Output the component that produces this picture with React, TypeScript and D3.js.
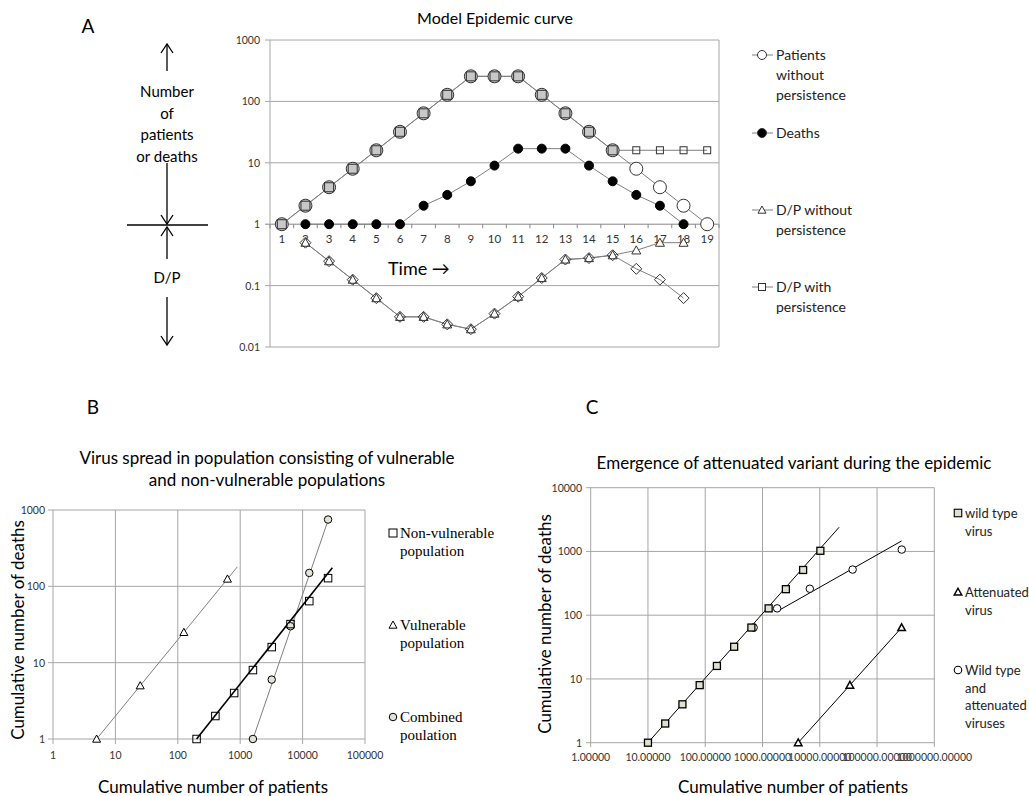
import * as d3 from 'd3';

// ---- Panel A: model epidemic curve ----
const timeSteps = ['1', '2', '3', '4', '5', '6', '7', '8', '9', '10', '11', '12', '13', '14', '15', '16', '17', '18', '19'];
const patientsNoPersist = [1, 2, 4, 8, 16, 32, 64, 128, 256, 256, 256, 128, 64, 32, 16, 8, 4, 2, 1];
const patientsPersist = [1, 2, 4, 8, 16, 32, 64, 128, 256, 256, 256, 128, 64, 32, 16, 16, 16, 16, 16];
const deaths = [null, 1, 1, 1, 1, 1, 2, 3, 5, 9, 17, 17, 17, 9, 5, 3, 2, 1, null];
const dpNoPersist = [null, 0.5, 0.25, 0.125, 0.0625, 0.031, 0.031, 0.0234, 0.0195, 0.035, 0.066, 0.133, 0.266, 0.281, 0.3125, 0.375, 0.5, 0.5, null];
const dpPersist = [null, 0.5, 0.25, 0.125, 0.0625, 0.031, 0.031, 0.0234, 0.0195, 0.035, 0.066, 0.133, 0.266, 0.281, 0.3125, 0.1875, 0.125, 0.0625, null];
const ticksA = [0.01, 0.1, 1, 10, 100, 1000];
const tickLabelsA = ['0.01', '0.1', '1', '10', '100', '1000'];

// ---- Panel B: vulnerable / non-vulnerable ----
const nonVulnPatients = [200, 400, 800, 1600, 3200, 6400, 12800, 25600];
const nonVulnDeaths = [1, 2, 4, 8, 16, 32, 64, 128];
const vulnPatients = [5, 25, 125, 625];
const vulnDeaths = [1, 5, 25, 125];
const combinedPatients = [1600, 3200, 6400, 12800, 25600];
const combinedDeaths = [1, 6, 30, 150, 750];
const nonVulnTrend = [[200, 1], [30000, 175]];
const vulnTrend = [[5, 1], [900, 180]];
const combinedTrend = [[1600, 1], [26000, 760]];
const xTicksB = [1, 10, 100, 1000, 10000, 100000];
const yTicksB = [1, 10, 100, 1000];

// ---- Panel C: attenuated variant ----
const wildPatients = [10, 20, 40, 80, 160, 320, 640, 1280, 2560, 5120, 10240];
const wildDeaths = [1, 2, 4, 8, 16, 32, 64, 128, 256, 512, 1024];
const attenPatients = [4200, 33600, 268800];
const attenDeaths = [1, 8, 64];
const mixedPatients = [700, 1800, 6700, 37500, 270000];
const mixedDeaths = [64, 128, 260, 520, 1070];
const wildTrend = [[10, 1], [21800, 2400]];
const attenTrend = [[4200, 1], [268800, 64]];
const mixedTrend = [[1900, 118], [268000, 1460]];
const xTicksC = [1, 10, 100, 1000, 10000, 100000, 1000000];
const xTickLabelsC = ['1.00000', '10.00000', '100.00000', '1000.00000', '10000.00000', '100000.00000', '1000000.00000'];
const yTicksC = [1, 10, 100, 1000, 10000];

const SANS = 'Lato, "Open Sans", sans-serif';
const SERIF = '"Liberation Serif", "DejaVu Serif", serif';
const GRID = '#a6a6a6';

function Marker({ shape, x, y, size, fill = '#fff', stroke = '#000', sw = 1 }) {
  const h = size / 2;
  if (shape === 'circle') return <circle cx={x} cy={y} r={h} fill={fill} stroke={stroke} strokeWidth={sw} />;
  if (shape === 'square') return <rect x={x - h} y={y - h} width={size} height={size} fill={fill} stroke={stroke} strokeWidth={sw} />;
  if (shape === 'triangle')
    return <path d={`M${x},${y - h}L${x + h},${y + h * 0.8}L${x - h},${y + h * 0.8}Z`} fill={fill} stroke={stroke} strokeWidth={sw} />;
  return <path d={`M${x},${y - h}L${x + h},${y}L${x},${y + h}L${x - h},${y}Z`} fill={fill} stroke={stroke} strokeWidth={sw} />;
}

function Arrow({ x, y1, y2 }) {
  // arrow from y1 to tip at y2
  const dir = y2 < y1 ? 1 : -1;
  return (
    <g stroke="#000" strokeWidth={1.3} fill="none">
      <line x1={x} y1={y1} x2={x} y2={y2} />
      <path d={`M${x - 6},${y2 + dir * 9}L${x},${y2}L${x + 6},${y2 + dir * 9}`} />
    </g>
  );
}

function PanelA() {
  const x = d3.scaleBand().domain(timeSteps).range([270, 719]);
  const y = d3.scaleLog().domain([0.01, 1000]).range([347, 40]);
  const cx = (i) => x(timeSteps[i]) + x.bandwidth() / 2;
  const line = d3
    .line()
    .defined((d) => d != null)
    .x((d, i) => cx(i))
    .y((d) => y(d));
  const series = [patientsNoPersist, patientsPersist, deaths, dpNoPersist, dpPersist];
  const legend = [
    { shape: 'circle', size: 9, fill: '#fff', lines: ['Patients', 'without', 'persistence'], y: 55 },
    { shape: 'circle', size: 9, fill: '#000', lines: ['Deaths'], y: 133 },
    { shape: 'triangle', size: 8, fill: '#fff', lines: ['D/P without', 'persistence'], y: 210 },
    { shape: 'square', size: 7, fill: '#fff', lines: ['D/P with', 'persistence'], y: 287 },
  ];
  return (
    <g>
      <text x={88} y={33} fontFamily={SANS} fontSize={19} textAnchor="middle">A</text>
      <text x={495} y={24} fontFamily={SANS} fontSize={16} textAnchor="middle">Model Epidemic curve</text>
      {/* left annotation */}
      <Arrow x={167} y1={71} y2={44} />
      {['Number', 'of', 'patients', 'or deaths'].map((t, i) => (
        <text key={t} x={167} y={97 + i * 21.5} fontFamily={SANS} fontSize={15} textAnchor="middle">{t}</text>
      ))}
      <Arrow x={167} y1={163} y2={224} />
      <line x1={127} x2={208} y1={225} y2={225} stroke="#000" strokeWidth={1.3} />
      <Arrow x={167} y1={259} y2={227} />
      <text x={167} y={283} fontFamily={SANS} fontSize={15} textAnchor="middle">D/P</text>
      <Arrow x={167} y1={297} y2={345} />
      {/* grid & frame */}
      {ticksA.map((t, i) => (
        <g key={t}>
          <line x1={265} x2={719} y1={y(t)} y2={y(t)} stroke={t === 1 ? '#868686' : GRID} strokeWidth={1} />
          <text x={260} y={y(t) + 4} fontFamily={SANS} fontSize={10.5} fill="#333" textAnchor="end">{tickLabelsA[i]}</text>
        </g>
      ))}
      <line x1={270} x2={270} y1={40} y2={347} stroke={GRID} />
      <line x1={719} x2={719} y1={40} y2={347} stroke={GRID} />
      {timeSteps.map((t, i) => (
        <g key={t}>
          <line x1={x(t)} x2={x(t)} y1={y(1)} y2={y(1) + 4} stroke="#868686" />
          <text x={cx(i)} y={y(1) + 19} fontFamily={SANS} fontSize={11.5} fill="#333" textAnchor="middle">{t}</text>
        </g>
      ))}
      <line x1={719} x2={719} y1={y(1)} y2={y(1) + 4} stroke="#868686" />
      <text x={388} y={275} fontFamily={SANS} fontSize={18}>Time →</text>
      {/* lines */}
      {series.map((s, k) => (
        <path key={k} d={line(s)} fill="none" stroke="#7f7f7f" strokeWidth={1} />
      ))}
      {/* markers */}
      {patientsNoPersist.map((v, i) => (
        <Marker key={'c' + i} shape="circle" x={cx(i)} y={y(v)} size={13} sw={1}
          fill={patientsPersist[i] === v ? '#c8c8c8' : '#fff'} stroke="#333" />
      ))}
      {patientsPersist.map((v, i) => (
        <Marker key={'s' + i} shape="square" x={cx(i)} y={y(v)} size={i >= 15 ? 7 : 9} fill="none" stroke="#333" />
      ))}
      {deaths.map((v, i) => v != null && <Marker key={'d' + i} shape="circle" x={cx(i)} y={y(v)} size={9} fill="#000" stroke="#000" />)}
      {dpNoPersist.map((v, i) => v != null && <Marker key={'t' + i} shape="triangle" x={cx(i)} y={y(v)} size={9} fill="#fff" stroke="#333" />)}
      {dpPersist.map((v, i) => v != null && <Marker key={'m' + i} shape="diamond" x={cx(i)} y={y(v)} size={11} fill="none" stroke="#333" />)}
      {/* legend */}
      {legend.map((l) => (
        <g key={l.lines[0]}>
          <line x1={752} x2={773} y1={l.y} y2={l.y} stroke="#7f7f7f" />
          <Marker shape={l.shape} x={762} y={l.y} size={l.size} fill={l.fill} stroke="#333" />
          {l.lines.map((t, j) => (
            <text key={t} x={776} y={l.y + 5 + j * 20} fontFamily={SANS} fontSize={14} fill="#222">{t}</text>
          ))}
        </g>
      ))}
    </g>
  );
}

function PanelB() {
  const x = d3.scaleLog().domain([1, 100000]).range([53, 365]);
  const y = d3.scaleLog().domain([1, 1000]).range([739, 510]);
  const seg = d3.line().x((d) => x(d[0])).y((d) => y(d[1]));
  const legend = [
    { shape: 'square', size: 9, fill: '#fff', lines: ['Non-vulnerable', 'population'], y: 533 },
    { shape: 'triangle', size: 9, fill: '#fff', lines: ['Vulnerable', 'population'], y: 625 },
    { shape: 'circle', size: 9, fill: '#e4e2d6', lines: ['Combined', 'poulation'], y: 717 },
  ];
  return (
    <g>
      <text x={93} y={414} fontFamily={SANS} fontSize={19} textAnchor="middle">B</text>
      <text x={267} y={464} fontFamily={SANS} fontSize={17} textAnchor="middle">Virus spread in population consisting of vulnerable</text>
      <text x={267} y={486} fontFamily={SANS} fontSize={17} textAnchor="middle">and non-vulnerable populations</text>
      {yTicksB.map((t) => (
        <g key={t}>
          <line x1={48} x2={365} y1={y(t)} y2={y(t)} stroke={GRID} />
          <text x={45} y={y(t) + 4} fontFamily={SANS} fontSize={10.5} fill="#333" textAnchor="end">{t}</text>
        </g>
      ))}
      {xTicksB.map((t) => (
        <g key={t}>
          <line x1={x(t)} x2={x(t)} y1={510} y2={744} stroke={GRID} />
          <text x={x(t)} y={759} fontFamily={SANS} fontSize={10.5} fill="#333" textAnchor="middle">{t}</text>
        </g>
      ))}
      <text x={213} y={793} fontFamily={SANS} fontSize={17} textAnchor="middle">Cumulative number of patients</text>
      <text transform="translate(24,630) rotate(-90)" fontFamily={SANS} fontSize={17} textAnchor="middle">Cumulative number of deaths</text>
      <path d={seg(vulnTrend)} stroke="#7f7f7f" strokeWidth={1} fill="none" />
      <path d={seg(combinedTrend)} stroke="#7f7f7f" strokeWidth={1} fill="none" />
      <path d={seg(nonVulnTrend)} stroke="#000" strokeWidth={1.6} fill="none" />
      {vulnPatients.map((p, i) => <Marker key={'v' + i} shape="triangle" x={x(p)} y={y(vulnDeaths[i])} size={8} />)}
      {combinedPatients.map((p, i) => <Marker key={'c' + i} shape="circle" x={x(p)} y={y(combinedDeaths[i])} size={7.5} fill="#e4e2d6" />)}
      {nonVulnPatients.map((p, i) => <Marker key={'n' + i} shape="square" x={x(p)} y={y(nonVulnDeaths[i])} size={7.5} fill="none" />)}
      {legend.map((l) => (
        <g key={l.lines[0]}>
          <Marker shape={l.shape} x={393} y={l.y} size={l.shape === 'circle' ? 7.5 : 8} fill={l.fill} />
          {l.lines.map((t, j) => (
            <text key={t} x={400} y={l.y + 5 + j * 17.5} fontFamily={SERIF} fontSize={15}>{t}</text>
          ))}
        </g>
      ))}
    </g>
  );
}

function PanelC() {
  const x = d3.scaleLog().domain([1, 1000000]).range([590.7, 934.3]);
  const y = d3.scaleLog().domain([1, 10000]).range([742.7, 487.7]);
  const seg = d3.line().x((d) => x(d[0])).y((d) => y(d[1]));
  const legend = [
    { shape: 'square', fill: '#e0dfd0', lines: ['wild type', 'virus'], y: 513 },
    { shape: 'triangle', fill: '#fff', lines: ['Attenuated', 'virus'], y: 592 },
    { shape: 'circle', fill: '#fff', lines: ['Wild type', 'and', 'attenuated', 'viruses'], y: 670 },
  ];
  return (
    <g>
      <text x={592} y={414} fontFamily={SANS} fontSize={19} textAnchor="middle">C</text>
      <text x={794} y={469} fontFamily={SANS} fontSize={17} textAnchor="middle">Emergence of attenuated variant during the epidemic</text>
      {yTicksC.map((t) => (
        <g key={t}>
          <line x1={586} x2={934.3} y1={y(t)} y2={y(t)} stroke={GRID} />
          <text x={582} y={y(t) + 4} fontFamily={SANS} fontSize={10.5} fill="#333" textAnchor="end">{t}</text>
        </g>
      ))}
      {xTicksC.map((t, i) => (
        <g key={t}>
          <line x1={x(t)} x2={x(t)} y1={487.7} y2={747} stroke={GRID} />
          <text x={x(t)} y={761} fontFamily={SANS} fontSize={10.5} fill="#333" textAnchor="middle">{xTickLabelsC[i]}</text>
        </g>
      ))}
      <text x={793} y={793} fontFamily={SANS} fontSize={17} textAnchor="middle">Cumulative number of patients</text>
      <text transform="translate(551,624) rotate(-90)" fontFamily={SANS} fontSize={17} textAnchor="middle">Cumulative number of deaths</text>
      <path d={seg(wildTrend)} stroke="#000" strokeWidth={1} fill="none" />
      <path d={seg(mixedTrend)} stroke="#000" strokeWidth={1} fill="none" />
      <path d={seg(attenTrend)} stroke="#000" strokeWidth={1} fill="none" />
      {mixedPatients.map((p, i) => <Marker key={'m' + i} shape="circle" x={x(p)} y={y(mixedDeaths[i])} size={7.5} />)}
      {wildPatients.map((p, i) => <Marker key={'w' + i} shape="square" x={x(p)} y={y(wildDeaths[i])} size={7} fill="#e0dfd0" sw={1.3} />)}
      {attenPatients.map((p, i) => <Marker key={'a' + i} shape="triangle" x={x(p)} y={y(attenDeaths[i])} size={7.5} sw={1.5} />)}
      {legend.map((l) => (
        <g key={l.lines[0]}>
          <Marker shape={l.shape} x={958} y={l.y} size={7.5} fill={l.fill} sw={l.shape === 'triangle' ? 1.5 : 1.1} />
          {l.lines.map((t, j) => (
            <text key={t} x={965} y={l.y + 5 + j * 17.5} fontFamily={SANS} fontSize={13} fill="#222">{t}</text>
          ))}
        </g>
      ))}
    </g>
  );
}

export default function App() {
  return (
    <svg width={1029} height={796} style={{ position: 'absolute', left: 0, top: 0, background: '#fff' }}>
      <rect width={1029} height={796} fill="#fff" />
      <PanelA />
      <PanelB />
      <PanelC />
    </svg>
  );
}
